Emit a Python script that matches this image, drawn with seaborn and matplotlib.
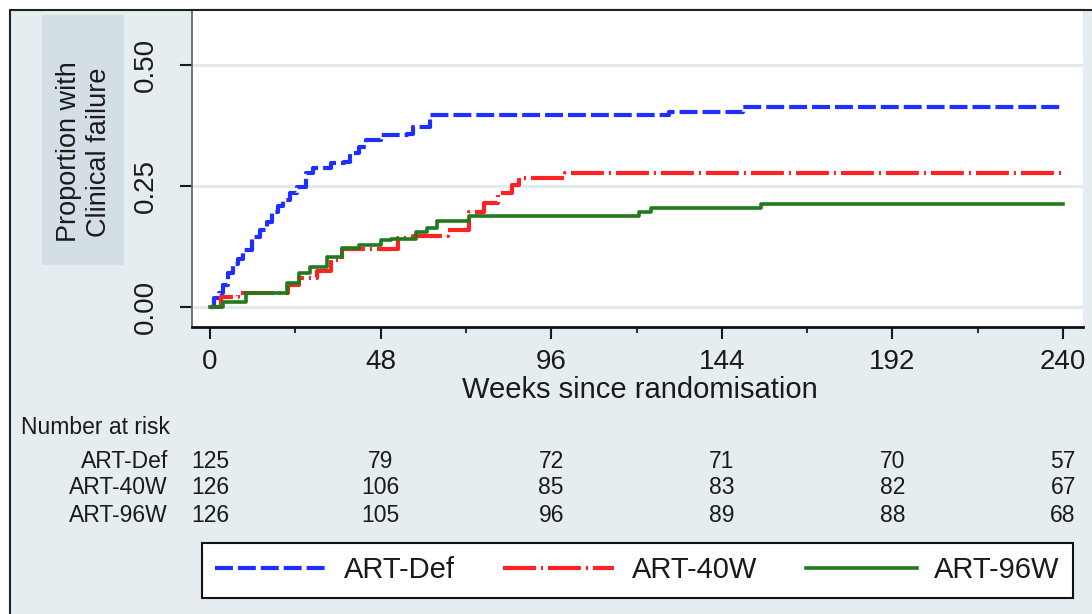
import numpy as np
import pandas as pd
import matplotlib
matplotlib.use("Agg")
import matplotlib.pyplot as plt
import matplotlib.transforms as mtransforms
from matplotlib.patches import Rectangle
from matplotlib.ticker import MultipleLocator
import seaborn as sns

# ---------------- data ----------------
arms = ["ART-Def", "ART-40W", "ART-96W"]

def_weeks = [0, 1, 2.5, 3.7, 5.2, 6.6, 8, 9.4, 11.7, 14, 16, 17.4, 19, 20.6, 22.5, 24.4, 27, 29,
             34, 37.6, 39.4, 42, 44, 48, 55.5, 57, 62, 129, 150, 240]
def_prop = [0, 0.018, 0.03, 0.045, 0.07, 0.09, 0.10, 0.118, 0.145, 0.159, 0.175, 0.196, 0.21, 0.221,
            0.235, 0.248, 0.277, 0.287, 0.297, 0.30, 0.318, 0.33, 0.345, 0.355, 0.357, 0.372, 0.397,
            0.403, 0.413, 0.413]

w40_weeks = [0, 3, 8, 22, 25, 30, 34, 37, 53, 57, 67, 73, 77, 81, 85, 87, 100, 240]
w40_prop = [0, 0.02, 0.03, 0.045, 0.06, 0.075, 0.097, 0.12, 0.142, 0.147, 0.16, 0.196, 0.215,
            0.235, 0.252, 0.266, 0.277, 0.277]

w96_weeks = [0, 3.7, 10, 21.6, 25, 28, 33, 37, 42, 48, 51, 58, 61, 64, 73, 120.7, 124, 155, 240]
w96_prop = [0, 0.01, 0.03, 0.05, 0.07, 0.083, 0.104, 0.122, 0.128, 0.138, 0.14, 0.155, 0.163,
            0.178, 0.188, 0.196, 0.204, 0.213, 0.213]

risk_weeks = [0, 48, 96, 144, 192, 240]
risk_def = [125, 79, 72, 71, 70, 57]
risk_40w = [126, 106, 85, 83, 82, 67]
risk_96w = [126, 105, 96, 89, 88, 68]

x_ticks = [0, 48, 96, 144, 192, 240]
y_ticks = [0.0, 0.25, 0.50]
y_ticklabels = ["0.00", "0.25", "0.50"]

df = pd.concat([
    pd.DataFrame({"week": def_weeks, "prop": def_prop, "arm": arms[0]}),
    pd.DataFrame({"week": w40_weeks, "prop": w40_prop, "arm": arms[1]}),
    pd.DataFrame({"week": w96_weeks, "prop": w96_prop, "arm": arms[2]}),
], ignore_index=True)

# ---------------- style ----------------
FONT = ["Liberation Sans", "DejaVu Sans"]
plt.rcParams["font.family"] = FONT
TXT = "#1a1a1a"
BG = "#e5edf1"
palette = {arms[0]: "#1f2fff", arms[1]: "#ff2222", arms[2]: "#217a1c"}
dashes = {arms[0]: (4.3, 1.2), arms[1]: (7.9, 1.2, 0.5, 1.2), arms[2]: ""}

W, H = 1092, 614
fig = plt.figure(figsize=(W / 100, H / 100), dpi=100)
fig.patch.set_facecolor("white")

# outer panel (only top and left edges fall inside the figure)
fig.patches.append(Rectangle((10 / W, -0.2), 1.2, 1.2 - 10 / H, transform=fig.transFigure,
                             facecolor=BG, edgecolor="#222222", lw=1.5, zorder=-10))

ax = fig.add_axes([192 / W, 1 - 327 / H, (1083 - 192) / W, (327 - 10) / H])
ax.set_facecolor("white")

sns.lineplot(data=df, x="week", y="prop", hue="arm", style="arm", palette=palette,
             dashes=dashes, estimator=None, drawstyle="steps-post", lw=3.0, ax=ax,
             legend=False, hue_order=arms, style_order=arms)
for ln in ax.lines:
    ln.set_dash_capstyle("butt")
ax.lines[2].set_linewidth(2.6)

ax.set_xlim(-5.06, 245.6)
ax.set_ylim(-0.041, 0.614)
ax.set_xticks(x_ticks)
ax.xaxis.set_minor_locator(MultipleLocator(24))
ax.set_yticks(y_ticks)
ax.set_yticklabels(y_ticklabels, rotation=90, va="center")
ax.tick_params(axis="x", which="major", length=8.5, width=1.5, pad=7, labelsize=20, colors=TXT)
ax.tick_params(axis="x", which="minor", length=4.5, width=1.3, colors=TXT)
ax.tick_params(axis="y", which="major", length=8.5, width=1.5, pad=15, labelsize=20, colors=TXT)
ax.grid(axis="y", color="#e2eaee", lw=2.2)
ax.grid(axis="x", visible=False)
ax.set_axisbelow(True)

ax.spines["right"].set_visible(False)
ax.spines["top"].set_color("#222222")
ax.spines["top"].set_linewidth(1.5)
ax.spines["left"].set_color("#666666")
ax.spines["left"].set_linewidth(1.3)
ax.spines["bottom"].set_color("#111111")
ax.spines["bottom"].set_linewidth(2)

ax.set_xlabel("Weeks since randomisation", fontsize=21, color=TXT)
ax.set_ylabel("")
ax.xaxis.set_label_coords(0.503, -0.155)
ax.xaxis.label.set_va("top")

# y-axis title box
fig.patches.append(Rectangle((42 / W, 1 - 265 / H), 82 / W, 250 / H, transform=fig.transFigure,
                             facecolor="#d3dfe5", edgecolor="none", zorder=-5))
fig.text(84 / W, 1 - 152 / H, "Proportion with\nClinical failure", rotation=90, ha="center",
         va="center", multialignment="center", fontsize=19.5, color=TXT, linespacing=1.2)

# number at risk table
blend = mtransforms.blended_transform_factory(ax.transData, fig.transFigure)
fig.text(21 / W, 1 - 427 / H, "Number at risk", ha="left", va="center", fontsize=16.5, color=TXT)
rows = [(arms[0], risk_def, 461), (arms[1], risk_40w, 488), (arms[2], risk_96w, 515)]
for name, vals, ypx in rows:
    fig.text(168 / W, 1 - ypx / H, name, ha="right", va="center", fontsize=16.5, color=TXT)
    for wk, v in zip(risk_weeks, vals):
        ax.text(wk, 1 - ypx / H, str(v), transform=blend, ha="center", va="center",
                fontsize=16.5, color=TXT, clip_on=False)

# legend
leg = fig.legend(handles=ax.lines[:3], labels=arms, loc="center", ncol=3, mode="expand",
                 bbox_to_anchor=(202 / W, 1 - 598 / H, 871 / W, 55 / H), borderaxespad=0,
                 fontsize=21, handlelength=3.8, handletextpad=0.6, columnspacing=1.5,
                 fancybox=False, framealpha=1, edgecolor="#111111", borderpad=0.45)
leg.get_frame().set_linewidth(1.5)
for t in leg.get_texts():
    t.set_color(TXT)

fig.savefig("out.png", dpi=100)
